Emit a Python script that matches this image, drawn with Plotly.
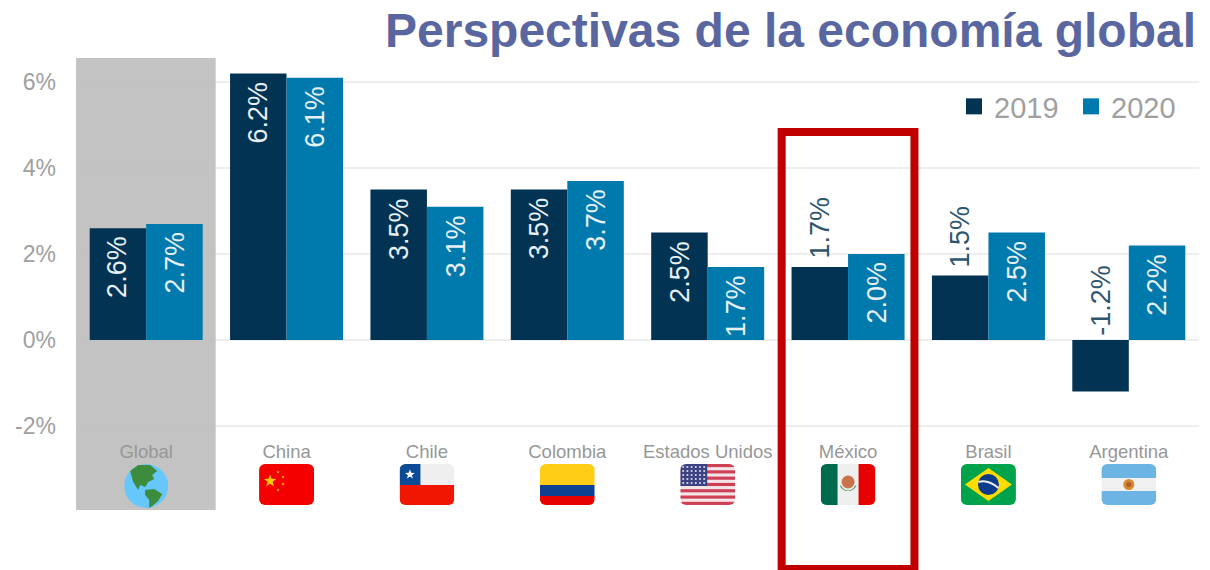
import base64
import math
import plotly.graph_objects as go

categories = ["Global", "China", "Chile", "Colombia", "Estados Unidos", "México", "Brasil", "Argentina"]
values_2019 = [2.6, 6.2, 3.5, 3.5, 2.5, 1.7, 1.5, -1.2]
values_2020 = [2.7, 6.1, 3.1, 3.7, 1.7, 2.0, 2.5, 2.2]
tick_values = [-2, 0, 2, 4, 6]
tick_labels = ["-2%", "0%", "2%", "4%", "6%"]
title_text = "Perspectivas de la economía global"
highlight = "México"
outside_2019 = ["México", "Brasil"]

W, H = 1210, 570
L, R, T, B = 76, 1199, 58, 510
DARK, BLUE = "#023353", "#0079AD"
PW, PH = R - L, B - T
FONT = "Liberation Sans, Arial, sans-serif"


def flag(body, w=55, h=41):
    svg = (f'<svg xmlns="http://www.w3.org/2000/svg" width="{w*4}" height="{h*4}" viewBox="0 0 {w} {h}">'
           f'<defs><clipPath id="c"><rect width="{w}" height="{h}" rx="6"/></clipPath>'
           f'<filter id="b"><feGaussianBlur stdDeviation="0.45"/></filter></defs>'
           f'<g clip-path="url(#c)" filter="url(#b)">{body}</g></svg>')
    return "data:image/svg+xml;base64," + base64.b64encode(svg.encode()).decode()


def star(cx, cy, r, col):
    pts = []
    for i in range(10):
        rr = r if i % 2 == 0 else r * 0.42
        a = -math.pi / 2 + i * math.pi / 5
        pts.append(f"{cx+rr*math.cos(a):.2f},{cy+rr*math.sin(a):.2f}")
    return f'<polygon points="{" ".join(pts)}" fill="{col}"/>'


def rect(x, y, w, h, c):
    return f'<rect x="{x}" y="{y}" width="{w}" height="{h}" fill="{c}"/>'


us = rect(0, 0, 55, 41, "#F4E6E8")
for i in range(7):
    us += rect(0, i * 6.3, 55, 3.15, "#CE3F55")
us += rect(0, 0, 27, 22, "#3E4382")
for r_ in range(5):
    for c_ in range(6):
        us += f'<circle cx="{3+c_*4.2}" cy="{3+r_*4}" r="1.05" fill="#D8D8E8"/>'

flags = {
    "Global": ('<circle cx="22" cy="22" r="22" fill="#66C7FA"/>'
               '<path d="M6,7 L14,1 L26,1 L33,7 L28,11 L30,15 L24,18 L21,23 L16,21 L14,26 L9,18 Z" fill="#3E8B3C"/>'
               '<path d="M21,26 L30,25 L38,30 L34,37 L28,42 L25,44 L25,36 L21,31 Z" fill="#3E8B3C"/>', 44, 44),
    "China": (rect(0, 0, 55, 41, "#F50000") + star(11, 17, 6.5, "#FFC800") + star(19, 8, 1.8, "#FFC800")
              + star(24, 13, 1.8, "#FFC800") + star(24, 20, 1.8, "#FFC800") + star(19, 26, 1.8, "#FFC800"), 55, 41),
    "Chile": (rect(0, 0, 55, 21, "#EFEFEF") + rect(0, 21, 55, 20, "#F01400") + rect(0, 0, 21, 21, "#0F4C96")
              + star(10.5, 10.5, 5, "#FFFFFF"), 55, 41),
    "Colombia": (rect(0, 0, 55, 21, "#FFCC14") + rect(0, 21, 55, 11, "#0A4191") + rect(0, 32, 55, 9, "#E60000"), 55, 41),
    "Estados Unidos": (us, 55, 41),
    "México": (rect(0, 0, 55, 41, "#EFEFEF") + rect(0, 0, 17, 41, "#006A4E") + rect(38, 0, 17, 41, "#E60000")
               + '<circle cx="27.5" cy="18" r="6.5" fill="#C8734A"/>'
                 '<path d="M19,21 A9,9 0 0 0 36,21 L34,22 A7,7 0 0 1 21,22 Z" fill="#5E9E6E"/>', 55, 41),
    "Brasil": (rect(0, 0, 55, 41, "#00A24C") + '<polygon points="27.5,4 51,20.5 27.5,37 4,20.5" fill="#FFDC00"/>'
               + '<circle cx="27.5" cy="20.5" r="10.5" fill="#083A8C"/>'
                 '<path d="M17.5,18 Q27,15 37.5,24" stroke="#EEE" stroke-width="2" fill="none"/>', 55, 41),
    "Argentina": (rect(0, 0, 55, 41, "#F0F0F0") + rect(0, 0, 55, 14, "#6CB4E4") + rect(0, 27, 55, 14, "#6CB4E4")
                  + '<circle cx="27.5" cy="20.5" r="5.5" fill="#D88A30"/><circle cx="27.5" cy="20.5" r="2.6" fill="#B0602A"/>', 55, 41),
}

fig = go.Figure()
fig.add_bar(name="2019", x=categories, y=values_2019, marker_color=DARK, marker_line_width=0, showlegend=False)
fig.add_bar(name="2020", x=categories, y=values_2020, marker_color=BLUE, marker_line_width=0, showlegend=False)
# legend keys at the reference's larger swatch size
for nm, col in (("2019", DARK), ("2020", BLUE)):
    fig.add_scatter(name=nm, x=[None], y=[None], mode="markers",
                    marker=dict(symbol="square", size=16, color=col), hoverinfo="skip")

SIDE = 28.5
annots = []
for name, vals, sh in (("2019", values_2019, -SIDE), ("2020", values_2020, SIDE)):
    for cat, v in zip(categories, vals):
        is_out = name == "2019" and cat in outside_2019
        if v < 0:
            yv, anc, ys, col = 0, "bottom", 2, "#2F566F"
        elif is_out:
            yv, anc, ys, col = v, "bottom", 6, "#2F566F"
        else:
            yv, anc, ys, col = v, "top", -6, "#E6F0F5"
        annots.append(dict(x=cat, y=yv, xref="x", yref="y", text=f"{v:.1f}%", showarrow=False, textangle=-90,
                           xshift=sh, yshift=ys, yanchor=anc, xanchor="center",
                           font=dict(size=27, color=col, family=FONT)))

images = []
for cat in categories:
    body, w, h = flags[cat]
    dh = 44 if cat == "Global" else 41
    dw = 44 if cat == "Global" else 55
    images.append(dict(source=flag(body, w, h), xref="x", yref="paper", x=categories.index(cat),
                       y=(B - 464) / PH, sizex=dw / (PW / len(categories)), sizey=dh / PH,
                       xanchor="center", yanchor="top", sizing="stretch", layer="above"))

hi = categories.index(highlight)
shapes = [
    dict(type="rect", xref="x", yref="y", x0=-0.5, x1=0.495, y0=(B - 340) / -43, y1=(340 - T) / 43,
         fillcolor="#BEBEBE", opacity=0.93, line_width=0, layer="between"),
    dict(type="rect", xref="x", yref="paper", x0=hi - 0.473, x1=hi + 0.473, y0=(B - 569) / PH, y1=(B - 132) / PH,
         fillcolor="rgba(0,0,0,0)", line=dict(color="#C00000", width=8), layer="above"),
]

fig.update_layout(
    width=W, height=H, autosize=False, barmode="group", bargap=0.195, bargroupgap=0,
    margin=dict(l=L, r=W - R, t=T, b=H - B, pad=0),
    paper_bgcolor="white", plot_bgcolor="rgba(0,0,0,0)",
    font=dict(family=FONT, color="#999999"),
    title=dict(text=f"<b>{title_text}</b>", x=1196 / W, xref="container", xanchor="right", y=1 - 30 / H,
               yanchor="middle", font=dict(size=48, color="#5A66A0", family=FONT)),
    xaxis=dict(anchor="free", position=(B - 438) / PH, showline=False, ticks="", showgrid=False, zeroline=False,
               tickfont=dict(size=18.5, color="#979797", family=FONT), tickangle=0,
               range=[-0.5, len(categories) - 0.5], categoryorder="array", categoryarray=categories),
    yaxis=dict(range=[(B - 340) / -43, (340 - T) / 43], tickvals=tick_values, ticktext=tick_labels, showgrid=True,
               gridcolor="#EEEEEE", gridwidth=2, zeroline=True, zerolinecolor="#EEEEEE", zerolinewidth=2,
               ticks="", showline=False, tickfont=dict(size=23, color="#A0A0A0", family=FONT), ticklabelstandoff=19),
    legend=dict(orientation="h", x=(954 - L) / PW, xanchor="left", y=(B - 81) / PH, yanchor="top",
                entrywidth=72, entrywidthmode="pixels",
                font=dict(size=29, color="#A0A0A0", family=FONT), bgcolor="rgba(0,0,0,0)", itemclick=False),
    annotations=annots, images=images, shapes=shapes,
)

fig.write_html("out.html", config={"displayModeBar": False}, post_script="document.body.style.margin='0';")
